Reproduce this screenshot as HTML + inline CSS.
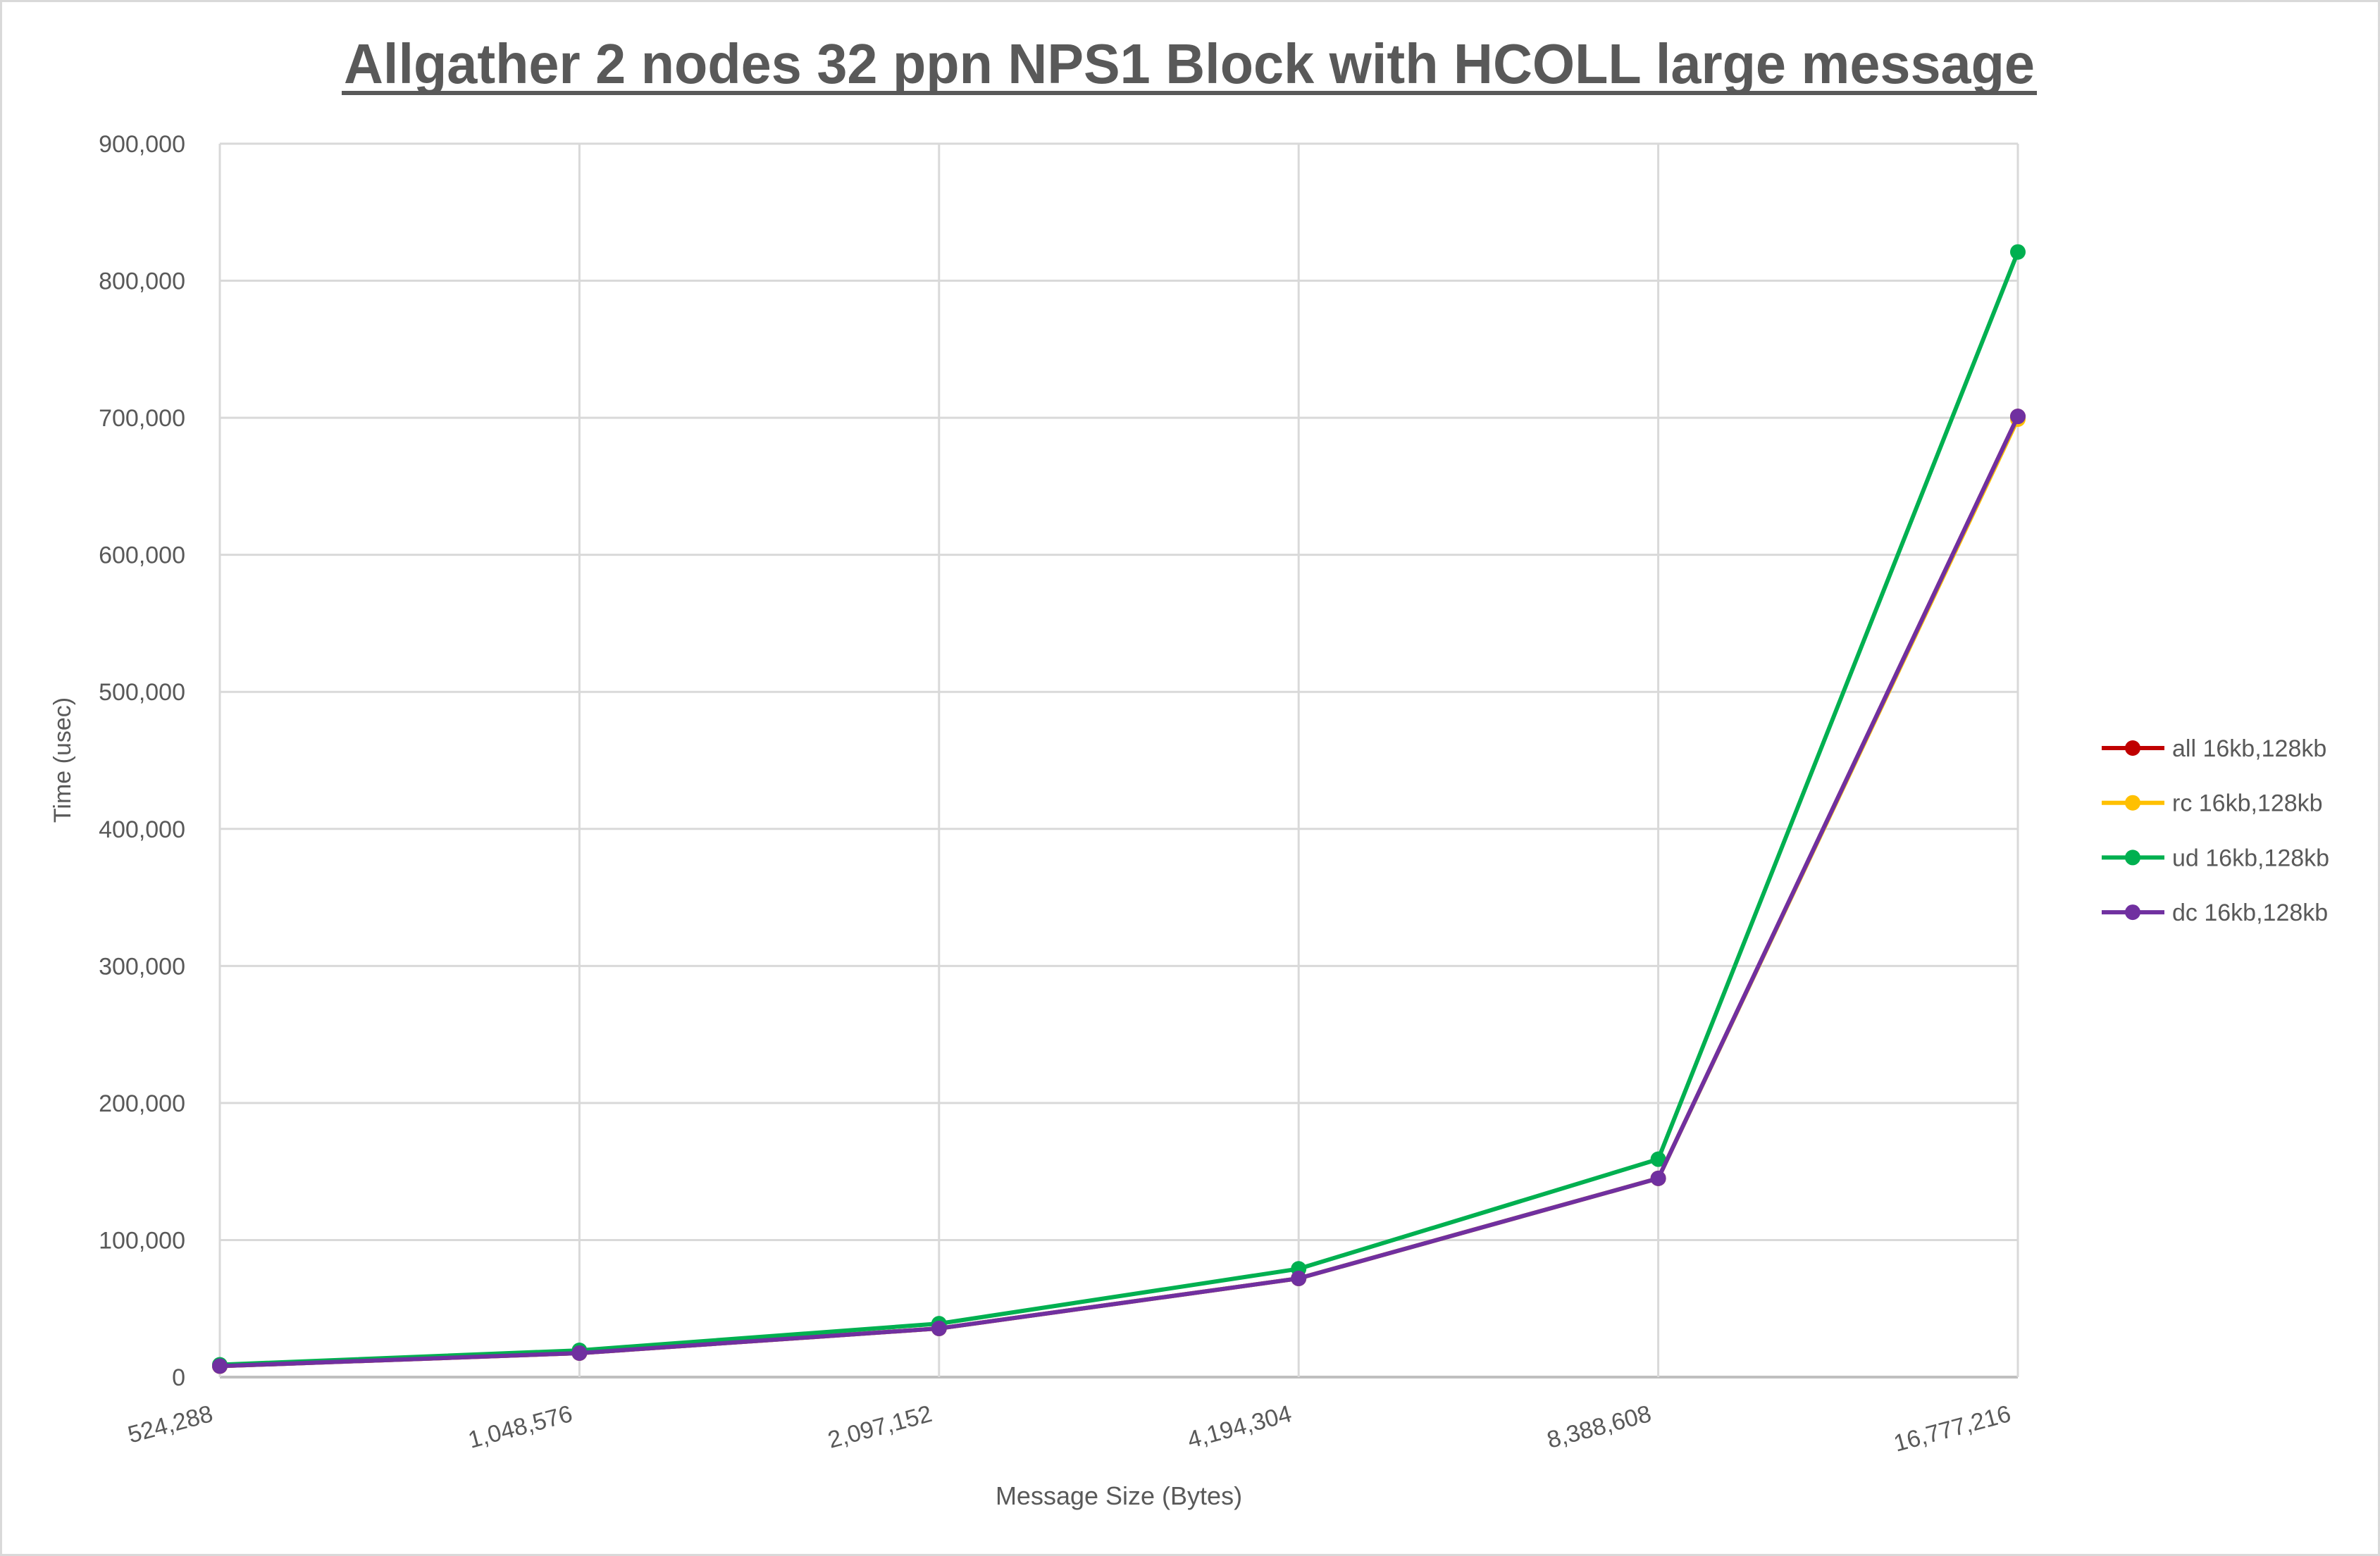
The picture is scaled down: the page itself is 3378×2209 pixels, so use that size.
<!DOCTYPE html>
<html><head><meta charset="utf-8"><style>
html,body{margin:0;padding:0;background:#fff}
svg{display:block}
text{font-family:"Liberation Sans",sans-serif;fill:#595959}
</style></head><body>
<svg width="3378" height="2209" viewBox="0 0 3378 2209">
<rect x="1.5" y="1.5" width="3375" height="2206" fill="#fff" stroke="#d9d9d9" stroke-width="3"/>
<text x="1688" y="118" text-anchor="middle" font-size="80" font-weight="bold" textLength="2400" lengthAdjust="spacingAndGlyphs">Allgather 2 nodes 32 ppn NPS1 Block with HCOLL large message</text>
<line x1="485" y1="132" x2="2891" y2="132" stroke="#595959" stroke-width="6"/>
<g id="grid"></g>
<g id="yticks"></g>
<g id="xticks"></g>
<g id="series"></g>
<text x="0" y="0" transform="translate(100,1079) rotate(-90)" text-anchor="middle" font-size="34">Time (usec)</text>
<text x="1588" y="2136" text-anchor="middle" font-size="36">Message Size (Bytes)</text>
<g id="legend"></g>
</svg>
<script>
const categories = ["524,288","1,048,576","2,097,152","4,194,304","8,388,608","16,777,216"];
const yTicks = [0,100000,200000,300000,400000,500000,600000,700000,800000,900000];
const seriesNames = ["all 16kb,128kb","rc 16kb,128kb","ud 16kb,128kb","dc 16kb,128kb"];
const seriesColors = ["#c00000","#ffc000","#00b050","#7030a0"];
const allValues = [8000,17500,35500,72000,145000,701000];
const rcValues = [8000,17500,35500,72000,145000,699000];
const udValues = [9000,19500,39000,79000,159000,821000];
const dcValues = [8000,17500,35500,72000,145000,701000];
const seriesValues = [allValues, rcValues, udValues, dcValues];

const NS="http://www.w3.org/2000/svg";
const L=312,R=2864,T=204,B=1955,YMAX=900000;
function xs(i){return L+(R-L)*i/(categories.length-1);}
function ys(v){return B-(B-T)*v/YMAX;}
function mk(tag,attrs,parent){const e=document.createElementNS(NS,tag);for(const k in attrs)e.setAttribute(k,attrs[k]);parent.appendChild(e);return e;}
const grid=document.getElementById('grid'),yt=document.getElementById('yticks'),xt=document.getElementById('xticks'),ser=document.getElementById('series'),leg=document.getElementById('legend');
yTicks.forEach(v=>{
  const l=mk('line',{x1:L,x2:R,y1:ys(v),y2:ys(v),stroke:v===0?'#bfbfbf':'#d9d9d9','stroke-width':v===0?4:3},grid);
  
  
  const t=mk('text',{x:263,y:ys(v)+12,'text-anchor':'end','font-size':34},yt);
  t.textContent=v.toLocaleString('en-US');
  
  
});
categories.forEach((c,i)=>{
  const l=mk('line',{x1:xs(i),x2:xs(i),y1:T,y2:B,stroke:'#d9d9d9','stroke-width':3},grid);
  
  
  const t=mk('text',{x:0,y:0,'text-anchor':'end','font-size':34,transform:`translate(${xs(i)-8},${B+62}) rotate(-15)`},xt);
  t.textContent=c;
  
  
});
[0,1,2,3].forEach(s=>{
  const vals=seriesValues[s];
  const p=mk('polyline',{points:vals.map((v,i)=>xs(i)+','+ys(v)).join(' '),fill:'none',stroke:seriesColors[s],'stroke-width':6,'stroke-linejoin':'round'},ser);
  
  
  vals.forEach((v,i)=>{
    const c=mk('circle',{cx:xs(i),cy:ys(v),r:11,fill:seriesColors[s]},ser);
    
    
  });
  const ly=1062+s*77.7;
  const g=mk('g',{},leg);
  
  
  mk('line',{x1:2983,x2:3072,y1:ly,y2:ly,stroke:seriesColors[s],'stroke-width':6},g);
  mk('circle',{cx:3027,cy:ly,r:11,fill:seriesColors[s]},g);
  const t=mk('text',{x:3083,y:ly+12,'font-size':34},g);
  t.textContent=seriesNames[s];
});
</script>
</body></html>
